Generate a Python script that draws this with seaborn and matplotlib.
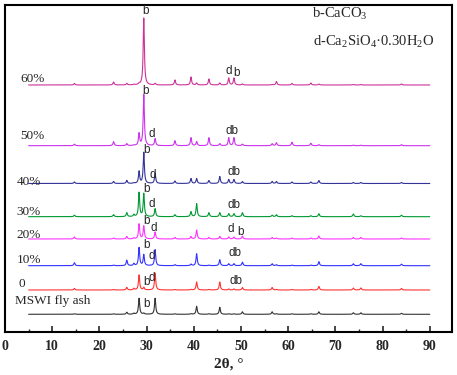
import numpy as np
import pandas as pd
import matplotlib
matplotlib.use("Agg")
import matplotlib.pyplot as plt
import seaborn as sns

# peak positions (2theta, deg)
peak_pos = [14.7, 23.0, 25.8, 27.3, 28.4, 29.4, 31.8, 36.0, 39.4, 40.6, 43.2, 45.5,
            47.4, 48.5, 50.3, 56.6, 57.5, 60.8, 64.8, 66.5, 73.8, 75.4, 84.0]

samples = ["MSWI fly ash", "0", "10%", "20%", "30%", "40%", "50%", "60%"]
offsets = [17.7, 42, 66.3, 93, 115.3, 148.5, 186.3, 247]
colors = ["#333333", "#ff3333", "#3333ff", "#ff33ff", "#009933", "#333399", "#cc33ee", "#cc3399"]

h_mswi = [0.5, 0.5, 2, 1, 16, 1, 16, 0.5, 0.5, 8, 0.5, 7, 0.5, 0.5, 2.5, 2.5, 0.5, 0.5, 0.5, 2.5, 1.5, 1.5, 1]
h_0 = [1.5, 0.5, 2.5, 1.5, 15, 2.5, 17, 0.5, 0.5, 8, 0.5, 8, 1, 1, 2.5, 2.5, 0.5, 0.5, 0.5, 3.5, 2, 2, 1.5]
h_10 = [3, 0.5, 5.5, 2, 18, 11, 16, 1, 1.5, 12, 0.5, 6, 2, 2, 3.5, 2, 1, 0.5, 0.5, 4, 2, 2, 1.5]
h_20 = [2, 1, 2.5, 1, 15, 13, 7, 1.5, 2.5, 9, 1.5, 2.5, 2, 2, 3, 1.5, 1, 1, 1, 3, 1.5, 1.5, 1]
h_30 = [1.5, 2, 4, 2, 24, 23, 8, 2, 5, 13, 4, 4, 3, 3, 4, 1.5, 2, 1, 1, 3, 2.7, 1, 1.5]
h_40 = [1.5, 2, 3, 0.5, 12, 31, 10, 2.5, 5, 5, 3, 7, 4, 4, 2, 2, 2, 1.5, 1.5, 3, 1, 1, 1]
h_50 = [1.5, 4, 2, 0.5, 12, 51, 7, 5, 8, 4, 8, 2, 8, 8, 1.5, 2, 3, 3.5, 2.5, 1, 0.5, 0.5, 1]
h_60 = [1.5, 3, 1.5, 0.5, 1, 67, 1.5, 5, 8, 2, 6, 2, 7, 7, 1, 0.5, 3.5, 1.5, 2, 1, 0.5, 0.5, 1]
heights = [h_mswi, h_0, h_10, h_20, h_30, h_40, h_50, h_60]

# sample label positions (x deg, y)
label_x = [2.2, 2.8, 2.5, 2.5, 2.5, 2.5, 3.2, 3.2]
label_y = [31, 48, 72, 97, 120, 150, 196, 253]

# phase markers: (text, x, y)
marks = [
    ("b", 30.0, 27.7),
    ("b", 30.0, 50.3), ("d", 31.1, 53.7), ("db", 48.9, 51),
    ("b", 30.0, 87), ("d", 31.1, 76), ("db", 48.7, 78.7),
    ("b", 29.9, 111.3), ("d", 31.6, 104.3), ("d", 47.8, 103), ("b", 49.8, 100.3),
    ("b", 30.0, 143), ("d", 31.1, 127.7), ("db", 48.5, 127),
    ("b", 30.0, 182), ("d", 31.4, 157), ("db", 48.6, 160.3),
    ("b", 29.7, 241), ("d", 31.1, 197.7), ("db", 48.0, 201),
    ("b", 29.7, 321), ("d", 47.5, 261), ("b", 49.1, 259),
]

sns.set_theme(style="ticks")
plt.rcParams["font.family"] = ["Liberation Serif", "DejaVu Serif"]
plt.rcParams["mathtext.fontset"] = "custom"
plt.rcParams["mathtext.rm"] = "Liberation Serif"

two_theta = np.arange(5, 90.001, 0.02)
rows = []
for name, off, hs in zip(samples, offsets, heights):
    y = np.full_like(two_theta, off)
    for p, h in zip(peak_pos, hs):
        y += h / (1 + ((two_theta - p) / 0.15) ** 2)
    rows.append(pd.DataFrame({"tt": two_theta, "y": y, "sample": name}))
df = pd.concat(rows)

fig = plt.figure(figsize=(4.57, 3.75), dpi=100)
ax = fig.add_axes([0.011, 0.1147, 0.978, 0.872])
sns.lineplot(data=df, x="tt", y="y", hue="sample", palette=dict(zip(samples, colors)),
             estimator=None, sort=False, linewidth=0.8, legend=False, ax=ax)

for name, lx, ly in zip(samples, label_x, label_y):
    ax.text(lx, ly, name, fontsize=9.5, va="center", ha="left")

for t, mx, my in marks:
    ax.text(mx, my, t, fontsize=8.5, va="center", ha="center", family=["Liberation Sans", "DejaVu Sans"])

ax.text(65.0, 318, r"b-CaCO$_3$", fontsize=10.5, va="center", ha="left")
ax.text(65.2, 290, r"d-Ca$_2$SiO$_4$·0.30H$_2$O", fontsize=10.5, va="center", ha="left")

ax.set_xlim(0, 94.7)
ax.set_ylim(0, 327)
ax.set_xticks(range(0, 91, 10))
ax.set_xticks(range(5, 91, 10), minor=True)
ax.set_yticks([])
ax.tick_params(axis="x", which="major", direction="in", length=4, width=1.2, pad=6, labelsize=10)
ax.tick_params(axis="x", which="minor", direction="in", length=2.5, width=1)
for lab in ax.get_xticklabels():
    lab.set_fontweight("bold")
ax.set_xlabel("2θ, °", fontsize=11, fontweight="bold", labelpad=3)
ax.set_ylabel("")
for s in ax.spines.values():
    s.set_visible(True)
    s.set_linewidth(1.5)
    s.set_color("black")

fig.savefig("out.png", dpi=100)
